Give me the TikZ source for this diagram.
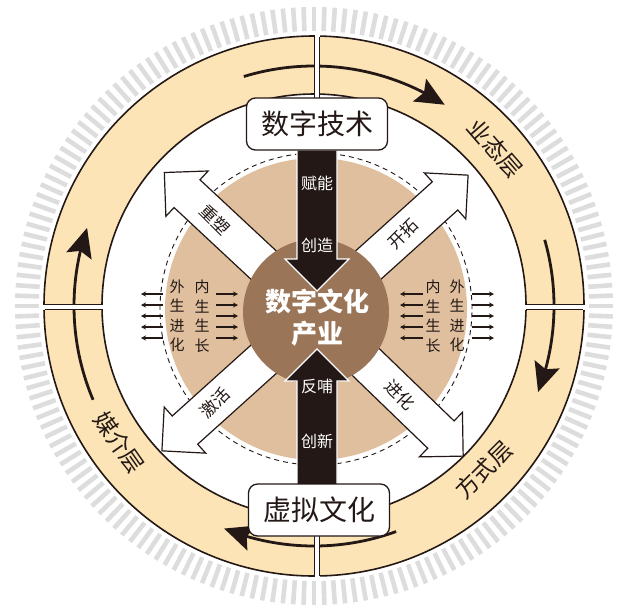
\documentclass[tikz,border=0pt]{standalone}
\usepackage{fontspec}
\setmainfont{Noto Sans CJK SC}
\usetikzlibrary{arrows.meta,bending,calc}
\definecolor{ringc}{HTML}{FCE4B6}
\definecolor{tickc}{HTML}{DDDDDD}
\definecolor{tanc}{HTML}{DFBF9E}
\definecolor{brownc}{HTML}{9B7558}
\definecolor{darkc}{HTML}{231815}
\begin{document}
\begin{tikzpicture}[x=1pt,y=1pt,
  tickline/.style={tickc, line width=4.6pt},
  ringedge/.style={darkc, line width=1.6pt},
  ringarrow/.style={darkc, line width=2.8pt, -{Stealth[length=29pt,width=26pt,inset=5pt,flex]}},
  ringlabel/.style={text=darkc, font=\fontsize{23}{23}\selectfont, inner sep=0pt},
  divline/.style={darkc, line width=1.2pt},
  labelbox/.style={draw=darkc, line width=1.3pt, fill=white, rounded corners=9pt,
     minimum width=141pt, minimum height=52pt, inner sep=0pt, text=darkc,
     font=\fontsize{28}{28}\selectfont},
  warrow/.style={draw=darkc, fill=white, line width=1.2pt, line join=miter},
  barrow/.style={draw=white, fill=darkc, line width=1.2pt, line join=miter},
  warrowtext/.style={text=darkc, font=\fontsize{17}{17}\selectfont, inner sep=0pt},
  barrowtext/.style={text=white, font=\fontsize{16}{16}\selectfont, inner sep=0pt},
  coltext/.style={text=darkc, align=center, font=\fontsize{15}{19.5}\selectfont, inner sep=0pt},
  sarrow/.style={darkc, line width=1.3pt, -{Stealth[length=5pt,width=5pt]}},
]
\useasboundingbox (0,0) rectangle (628,-606);
\coordinate (O) at (314,-306);
\coordinate (T) at (316,-309);
\coordinate (C) at (315,-313);

% tick band
\foreach \a in {0,2,...,358}
  \draw[tickline] ($(O)+(\a:275)$) -- ($(O)+(\a:299)$);

% ring
\fill[ringc, even odd rule] (O) circle[radius=270] (O) circle[radius=212];
\draw[ringedge] (O) circle[radius=270] (O) circle[radius=212];

% ring arrows
\draw[ringarrow] ($(O)+(107:240)$) arc[start angle=107, end angle=57, radius=240];
\draw[ringarrow] ($(O)+(16:240)$) arc[start angle=16, end angle=-21, radius=240];
\draw[ringarrow] ($(O)+(-70:240)$) arc[start angle=-70, end angle=-112, radius=240];
\draw[ringarrow] ($(O)+(203:240)$) arc[start angle=203, end angle=161, radius=240];

% ring labels
\node[ringlabel, rotate=-49] (lyt) at ($(O)+(41:240)$) {业态层};
\node[ringlabel, rotate=45] (lfs) at ($(O)+(-44:236)$) {方式层};
\node[ringlabel, rotate=-55] (lmj) at ($(O)+(215:238)$) {媒介层};

% dividers
\fill[white] (314.5,-34) rectangle (319.5,-100);
\draw[divline] (314.5,-36.5) -- (314.5,-100) (319.5,-36.5) -- (319.5,-100);
\fill[white] (314.5,-530) rectangle (319.5,-578);
\draw[divline] (314.5,-530) -- (314.5,-575.5) (319.5,-530) -- (319.5,-575.5);
\fill[white] (43,-304.5) rectangle (103,-309.5);
\draw[divline] (45,-304.5) -- (102.5,-304.5) (45,-309.5) -- (102.5,-309.5);
\fill[white] (525,-304.5) rectangle (585,-309.5);
\draw[divline] (525.5,-304.5) -- (583,-304.5) (525.5,-309.5) -- (583,-309.5);

% dashed circle and tan disk
\draw[darkc, line width=0.9pt, dash pattern=on 5pt off 4pt] (T) circle[radius=156];
\fill[tanc] (T) circle[radius=151];

% side arrows
\foreach \y in {294,305,316,327,338} {
  \draw[sarrow] (163,-\y) -- (141,-\y);
  \draw[sarrow] (216,-\y) -- (238,-\y);
  \draw[sarrow] (423,-\y) -- (400,-\y);
  \draw[sarrow] (472,-\y) -- (494,-\y);
}
\node[coltext] (c1) at (177,-316) {外\\生\\进\\化};
\node[coltext] (c2) at (202,-316) {内\\生\\生\\长};
\node[coltext] (c3) at (433,-316) {内\\生\\生\\长};
\node[coltext] (c4) at (457,-316) {外\\生\\进\\化};

% diagonal white arrows
\begin{scope}[shift={(C)}, rotate=137]
  \draw[warrow] (0,-19) -- (175,-19) -- (175,-31) -- (206,0) -- (175,31) -- (175,19) -- (0,19) -- cycle;
  \node[warrowtext, rotate=-45] (d1) at (137,0) {重塑};
\end{scope}
\begin{scope}[shift={(C)}, rotate=42]
  \draw[warrow] (0,-19) -- (175,-19) -- (175,-31) -- (206,0) -- (175,31) -- (175,19) -- (0,19) -- cycle;
  \node[warrowtext, rotate=45] (d2) at (118,0) {开拓};
\end{scope}
\begin{scope}[shift={(C)}, rotate=222]
  \draw[warrow] (0,-19) -- (175,-19) -- (175,-31) -- (206,0) -- (175,31) -- (175,19) -- (0,19) -- cycle;
  \node[warrowtext, rotate=45] (d3) at (134,0) {激活};
\end{scope}
\begin{scope}[shift={(C)}, rotate=-44]
  \draw[warrow] (0,-19) -- (175,-19) -- (175,-31) -- (206,0) -- (175,31) -- (175,19) -- (0,19) -- cycle;
  \node[warrowtext, rotate=-45] (d4) at (118,0) {进化};
\end{scope}

% core disk
\node[circle, fill=brownc, minimum size=146pt, inner sep=0pt] (core) at (316,-312) {};

% vertical black arrows
\draw[barrow] (297,-150) -- (297,-259) -- (285,-259) -- (317,-291) -- (349,-259) -- (337,-259) -- (337,-150) -- cycle;
\draw[barrow] (297,-485) -- (297,-381) -- (285,-381) -- (317,-349) -- (349,-381) -- (337,-381) -- (337,-485) -- cycle;
\node[barrowtext] (v1) at (317,-183) {赋能};
\node[barrowtext] (v2) at (317,-245) {创造};
\node[barrowtext] (v3) at (317,-386) {反哺};
\node[barrowtext] (v4) at (317,-441) {创新};

\node[text=white, align=center, inner sep=0pt, font=\fontsize{26}{32}\selectfont\bfseries] (coretext) at (317,-318) {数字文化\\产业};

% label boxes
\node[labelbox] (tech) at (317,-124) {数字技术};
\node[labelbox] (virt) at (319,-510) {虚拟文化};
\end{tikzpicture}
\end{document}
